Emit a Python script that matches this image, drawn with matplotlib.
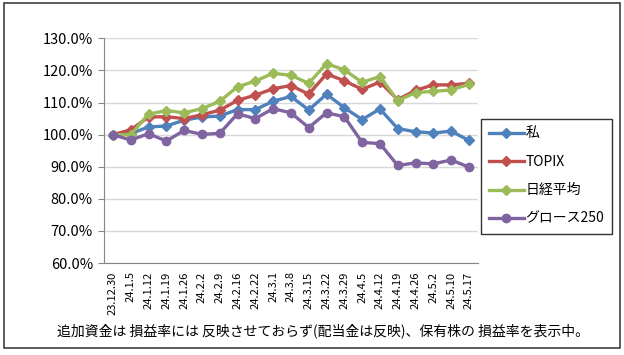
import numpy as np
import matplotlib
matplotlib.use("Agg")
import matplotlib.pyplot as plt
from matplotlib.patches import Rectangle

plt.rcParams['font.family'] = ['Noto Sans CJK JP', 'DejaVu Sans']

# week labels
dates = ["23.12.30", "24.1.5", "24.1.12", "24.1.19", "24.1.26", "24.2.2", "24.2.9",
         "24.2.16", "24.2.22", "24.3.1", "24.3.8", "24.3.15", "24.3.22", "24.3.29",
         "24.4.5", "24.4.12", "24.4.19", "24.4.26", "24.5.2", "24.5.10", "24.5.17"]

# values in percent (start = 100)
mine = [100.0, 100.3, 102.4, 102.7, 104.5, 105.5, 105.8, 107.8, 107.8, 110.4, 111.9,
        107.7, 112.6, 108.4, 104.7, 108.0, 101.9, 100.9, 100.5, 101.1, 98.2]
topix = [100.0, 101.5, 105.5, 105.6, 105.0, 106.2, 107.6, 110.7, 112.3, 114.3, 115.3,
         112.6, 118.9, 116.8, 114.1, 116.4, 110.9, 113.8, 115.5, 115.5, 116.0]
nikkei = [100.0, 100.0, 106.4, 107.5, 106.8, 108.1, 110.4, 114.9, 116.7, 119.1, 118.5,
          116.0, 122.1, 120.2, 116.3, 118.1, 110.6, 113.1, 113.5, 113.9, 115.7]
growth = [100.0, 98.3, 100.3, 98.0, 101.3, 100.1, 100.4, 106.5, 105.0, 108.1, 106.8,
          102.2, 106.8, 105.6, 97.6, 97.2, 90.4, 91.2, 90.9, 92.1, 89.9]

names = ["私", "TOPIX", "日経平均", "グロース250"]
colors = ["#4F81BD", "#C0504D", "#9BBB59", "#8064A2"]
markers = ["D", "D", "D", "o"]
note = "追加資金は 損益率には 反映させておらず(配当金は反映)、保有株の 損益率を表示中。"

fig = plt.figure(figsize=(6.24, 3.55), dpi=100)
ax = fig.add_axes([0.1667, 0.259, 0.599, 0.633])

x = np.arange(len(dates))
for vals, name, c, m in zip([mine, topix, nikkei, growth], names, colors, markers):
    ms = 5 if m == "D" else 6
    ax.plot(x, np.array(vals) / 100, color=c, lw=2.4, marker=m, ms=ms,
            label=name, solid_joinstyle="round")

ax.set_xlim(-0.5, len(dates) - 0.5)
ax.set_ylim(0.6, 1.3)
ax.set_yticks(np.arange(0.6, 1.31, 0.1))
ax.set_yticklabels(["%.1f%%" % (v * 100) for v in np.arange(0.6, 1.31, 0.1)], fontsize=10.5)
ax.set_xticks(x)
ax.set_xticklabels(dates, rotation=90, fontsize=8)
ax.tick_params(axis="x", length=0, pad=6)
ax.tick_params(axis="y", length=4, color="#868686", pad=4)

ax.grid(axis="y", color="#D9D9D9", lw=1)
ax.set_axisbelow(True)
for s in ["top", "right"]:
    ax.spines[s].set_visible(False)
ax.spines["left"].set_color("#868686")
ax.spines["bottom"].set_color("#868686")

leg = fig.legend(loc="upper left", bbox_to_anchor=(0.771, 0.665), fontsize=10,
                 frameon=True, fancybox=False, edgecolor="black", handlelength=2.5,
                 handletextpad=0.1, labelspacing=1.03, borderpad=0.57, borderaxespad=0)
leg.get_frame().set_linewidth(1.0)

fig.text(0.518, 0.068, note, ha="center", va="center", fontsize=10)

# outer frame
fig.patches.append(Rectangle((0.0064, 0.0197), 0.987, 0.972, transform=fig.transFigure,
                             fill=False, edgecolor="#404040", lw=1.2))

fig.savefig("out.png", dpi=100)
